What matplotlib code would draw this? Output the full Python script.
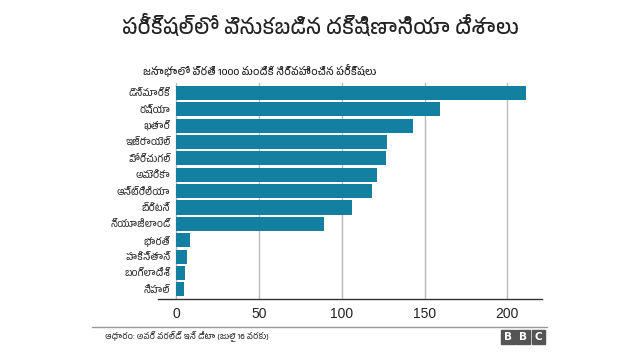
import matplotlib
matplotlib.use("Agg")
import matplotlib.pyplot as plt
from matplotlib import font_manager
from matplotlib.patches import Rectangle

# look for any font with Telugu glyphs, fall back to DejaVu
telugu = [f.name for f in font_manager.fontManager.ttflist if "telugu" in f.name.lower()]
fams = sorted(set(telugu)) + ["Noto Sans", "DejaVu Sans"]
plt.rcParams["font.family"] = fams

countries = ["డెన్మార్క్", "రష్యా", "ఖతార్", "ఇజ్రాయెల్", "పోర్చుగల్", "అమెరికా",
             "ఆస్ట్రేలియా", "బ్రిటన్", "న్యూజిలాండ్", "భారత్", "పాకిస్తాన్",
             "బంగ్లాదేశ్", "నేపాల్"]
tests = [211, 159.5, 143, 127.5, 127, 121.5, 118.5, 106, 89, 8.5, 6.8, 5.5, 4.5]
xticks = [0, 50, 100, 150, 200]

title = "పరీక్షల్లో వెనుకబడిన దక్షిణాసియా దేశాలు"
subtitle = "జనాభాలో ప్రతి 1000 మందికి నిర్వహించిన పరీక్షలు"
source = "ఆధారం: అవర్ వరల్డ్ ఇన్ డేటా (జులై 16 వరకు)"

fig = plt.figure(figsize=(6.4, 3.6), dpi=100)
ax = fig.add_axes([0.247, 0.169, 0.6, 0.6])

y = list(range(len(countries)))
ax.barh(y, tests, height=0.86, color="#1380a1", zorder=3)
ax.set_yticks(y)
ax.set_yticklabels(countries, fontsize=7, color="#333333")
ax.set_ylim(len(countries) - 0.4, -0.6)
ax.set_xlim(-10.9, 221)
ax.set_xticks(xticks)
ax.set_xticklabels([str(v) for v in xticks], fontsize=10, color="#222222",
                   family="Liberation Sans")
ax.tick_params(axis="y", length=0, pad=-9)
ax.tick_params(axis="x", length=0, pad=6)
ax.grid(axis="x", color="#bbbbbb", linewidth=1, zorder=0)
for s in ["top", "right", "left"]:
    ax.spines[s].set_visible(False)
ax.spines["bottom"].set_color("#333333")
ax.spines["bottom"].set_linewidth(1)

fig.text(0.5, 0.925, title, ha="center", va="center", fontsize=15, color="#222222")
fig.text(0.223, 0.805, subtitle, ha="left", va="center", fontsize=7.5, color="#222222")

# footer rule, source, logo
fig.add_artist(plt.Line2D([0.143, 0.855], [0.092, 0.092], color="#999999", linewidth=1))
fig.text(0.164, 0.065, source, ha="left", va="center", fontsize=6, color="#333333")
for i, ch in enumerate("BBC"):
    x0 = 0.783 + i * 0.024
    fig.add_artist(Rectangle((x0, 0.045), 0.021, 0.037, transform=fig.transFigure,
                             color="#555555"))
    fig.text(x0 + 0.0105, 0.0635, ch, ha="center", va="center", fontsize=7.5,
             color="white", fontweight="bold", family="DejaVu Sans")

fig.savefig("out.png", dpi=100)
